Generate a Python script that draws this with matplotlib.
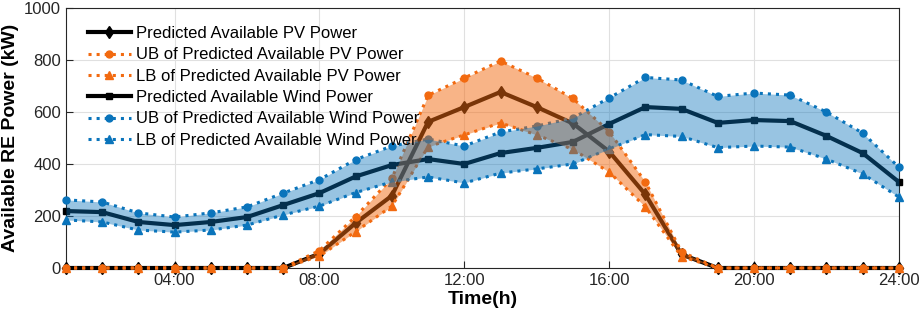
import numpy as np
import matplotlib
matplotlib.use('Agg')
import matplotlib.pyplot as plt

hours = list(range(1, 25))

# PV power (kW)
pv_pred = [0, 0, 0, 0, 0, 0, 0, 55, 173, 278, 562, 619, 677, 619, 556, 448, 283, 52, 0, 0, 0, 0, 0, 0]
pv_ub = [0, 0, 0, 0, 0, 0, 0, 67, 198, 345, 664, 731, 796, 731, 652, 525, 331, 62, 0, 0, 0, 0, 0, 0]
pv_lb = [0, 0, 0, 0, 0, 0, 0, 46, 140, 238, 466, 512, 558, 512, 456, 369, 235, 44, 0, 0, 0, 0, 0, 0]

# Wind power (kW)
wind_pred = [219, 215, 177, 165, 177, 196, 242, 288, 352, 396, 419, 400, 442, 462, 485, 554, 619, 612, 558, 569, 565, 508, 442, 331]
wind_ub = [262, 254, 212, 196, 212, 235, 288, 340, 417, 469, 496, 469, 523, 546, 577, 654, 733, 723, 660, 673, 665, 600, 519, 388]
wind_lb = [185, 177, 146, 138, 146, 165, 204, 238, 290, 331, 350, 327, 365, 381, 400, 458, 513, 506, 463, 469, 465, 419, 362, 273]

xtick_pos = [4, 8, 12, 16, 20, 24]
xtick_labels = ['04:00', '08:00', '12:00', '16:00', '20:00', '24:00']

plt.rcParams['font.family'] = ['Liberation Sans', 'DejaVu Sans']

ORANGE = '#F26A10'
BLUE = '#0A74BB'

fig = plt.figure(figsize=(9.2, 3.2), dpi=100)
ax = fig.add_axes([0.0717, 0.1625, 0.9053, 0.8125])

ax.plot(hours, pv_pred, color='black', lw=3, marker='d', ms=6, label='Predicted Available PV Power', zorder=3, clip_on=False)
ax.plot(hours, pv_ub, color=ORANGE, lw=2.2, ls=':', marker='o', ms=5, label='UB of Predicted Available PV Power', zorder=3, clip_on=False)
ax.plot(hours, pv_lb, color=ORANGE, lw=2.2, ls=':', marker='^', ms=6, label='LB of Predicted Available PV Power', zorder=3, clip_on=False)
ax.plot(hours, wind_pred, color='black', lw=3, marker='s', ms=5, label='Predicted Available Wind Power', zorder=3, clip_on=False)
ax.plot(hours, wind_ub, color=BLUE, lw=2.2, ls=':', marker='o', ms=5, label='UB of Predicted Available Wind Power', zorder=3, clip_on=False)
ax.plot(hours, wind_lb, color=BLUE, lw=2.2, ls=':', marker='^', ms=6, label='LB of Predicted Available Wind Power', zorder=3, clip_on=False)

# shaded bands drawn over the lines, like the original
ax.fill_between(hours, pv_lb, pv_ub, color=ORANGE, alpha=0.5, lw=0, zorder=4)
ax.fill_between(hours, wind_lb, wind_ub, color=BLUE, alpha=0.42, lw=0, zorder=4)

ax.set_xlim(1, 24)
ax.set_ylim(0, 1000)
ax.set_xticks(xtick_pos)
ax.set_xticklabels(xtick_labels)
ax.set_yticks(range(0, 1001, 200))
ax.tick_params(direction='in', labelsize=12, length=5, colors='#262626', labelcolor='#262626')
ax.grid(True, color='#e0e0e0', lw=0.8)
ax.set_axisbelow(True)
for s in ax.spines.values():
    s.set_color('#262626')
    s.set_linewidth(0.8)

ax.set_xlabel('Time(h)', fontsize=14, fontweight='bold', labelpad=2)
ax.set_ylabel('Available RE Power (kW)', fontsize=14, fontweight='bold', labelpad=4)

leg = ax.legend(loc='upper left', bbox_to_anchor=(0.012, 0.975), frameon=False, fontsize=12,
                handlelength=2.6, labelspacing=0.38, handletextpad=0.3, borderaxespad=0.3)

fig.savefig('out.png', dpi=100)
